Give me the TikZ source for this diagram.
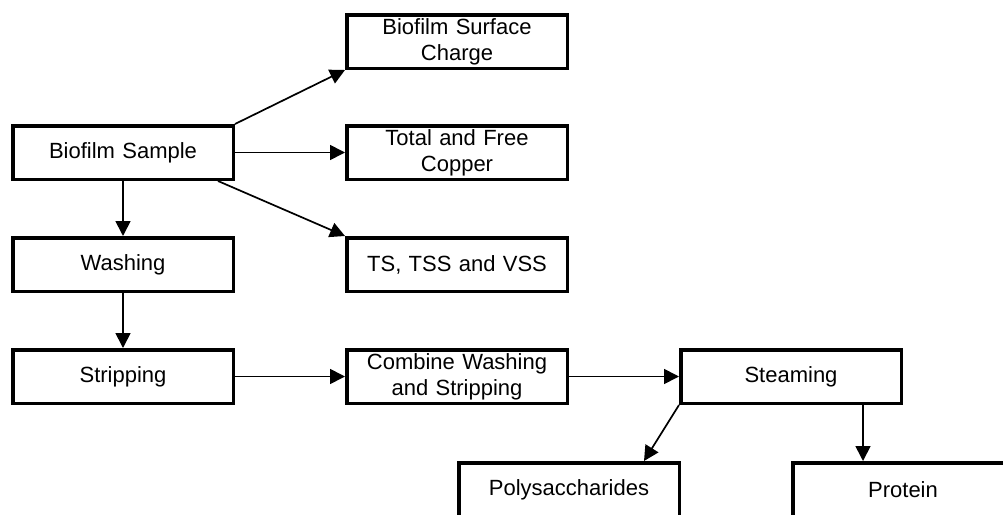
\documentclass[tikz,border=0pt]{standalone}
\usepackage{fontspec}
\setmainfont{Liberation Sans}
\usepackage{tikz}
\usetikzlibrary{positioning}
\usetikzlibrary{arrows.meta}
\tikzset{>={Triangle[width=15pt,length=15pt]}}

\begin{document}
\begin{tikzpicture}[box/.style={rectangle, draw=black, line width=3.5pt, outer sep=1.75pt, minimum width=220.5pt, minimum height=53.5pt, inner sep=1pt, text width=214pt, align=center, font=\fontsize{22}{26}\selectfont}, link/.style={->, line width=1.7pt}]

    \useasboundingbox (0,0) rectangle (1003pt,-514pt);
    \clip (0,0) rectangle (1003pt,-514pt);

    %Nodes
    \node[box](sample) at (123pt,-152.5pt){Biofilm Sample};
    \node[box](washing)[below=55pt of sample]{Washing};
    \node[box](stripping)[below=55pt of washing]{Stripping};

    \node[box](copper)[right=110pt of sample]{Total and Free\\Copper};
    \node[box](charge)[above=54pt of copper]{Biofilm Surface\\Charge};
    \node[box](solids)[below=55pt of copper]{TS, TSS and VSS};
    \node[box](combine)[right=110pt of stripping]{Combine Washing\\and Stripping};

    \node[box](steaming)[right=110pt of combine]{Steaming};
    \node[box, anchor=north](polysacch) at ([yshift=-56pt]combine.south east){Polysaccharides};
    \node[box](protein)[right=110pt of polysacch]{Protein};

    %Lines
    \draw[link] (sample.north east) -- (charge.south west);
    \draw[link] (sample.east) -- (copper.west);
    \draw[link] ([xshift=-17pt]sample.south east) -- (solids.north west);
    \draw[link] (sample.south) -- (washing.north);
    \draw[link] (washing.south) -- (stripping.north);
    \draw[link] (stripping.east) -- (combine.west);
    \draw[link] (combine.east) -- (steaming.west);
    \draw[link] (steaming.south west) -- ([xshift=-37pt]polysacch.north east);
    \draw[link] ([xshift=-40pt]steaming.south east) -- ([xshift=-40pt]steaming.south east |- protein.north);

\end{tikzpicture}
\end{document}
